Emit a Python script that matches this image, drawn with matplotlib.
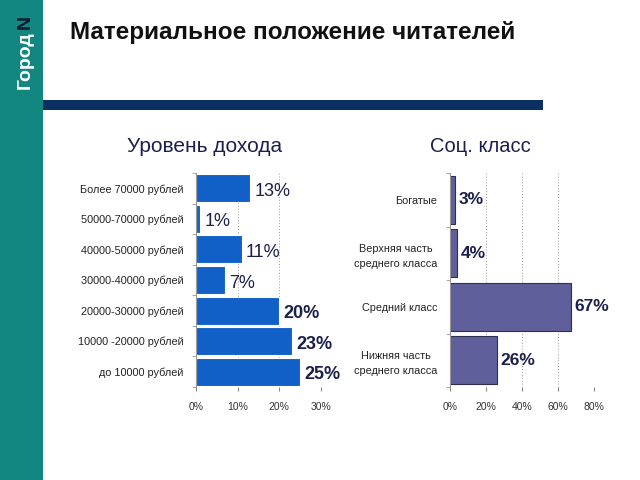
import matplotlib
matplotlib.use("Agg")
import matplotlib.pyplot as plt
from matplotlib.patches import Rectangle

plt.rcParams['font.family'] = ['Liberation Sans', 'DejaVu Sans']

income_labels = ["Более 70000 рублей", "50000-70000 рублей", "40000-50000 рублей",
                 "30000-40000 рублей", "20000-30000 рублей", "10000 -20000 рублей",
                 "до 10000 рублей"]
income_values = [13, 1, 11, 7, 20, 23, 25]
income_ticks = [0, 10, 20, 30]

class_labels = ["Богатые", "Верхняя часть\nсреднего класса", "Средний класс",
                "Нижняя часть\nсреднего класса"]
class_values = [3, 4, 67, 26]
class_ticks = [0, 20, 40, 60, 80]

title = "Материальное положение читателей"
brand = "Город"
brand_n = "N"
title_left = "Уровень дохода"
title_right = "Соц. класс"

fig = plt.figure(figsize=(6.4, 4.8), dpi=100)
fig.patch.set_facecolor("white")

brand_font = ['Liberation Sans Narrow', 'Liberation Sans', 'DejaVu Sans']

# sidebar
fig.add_artist(Rectangle((0, 0), 43/640, 1, transform=fig.transFigure,
                         facecolor="#11877f", edgecolor="none"))
fig.text(25/640, 1 - 89/480, brand, rotation=90, color="white", fontsize=14,
         fontweight="bold", ha="center", va="bottom", family=brand_font)
fig.text(25/640, 1 - 15/480, brand_n, rotation=90, color="#0b1a2e", fontsize=14,
         fontweight="bold", ha="center", va="top", family=brand_font)
# header bar
fig.add_artist(Rectangle((43/640, 1 - 110/480), 500/640, 10/480, transform=fig.transFigure,
                         facecolor="#0b2f63", edgecolor="none"))
fig.text(70/640, 1 - 33/480, title, fontsize=17.5, fontweight="bold", color="#111111",
         ha="left", va="center")

title_color = "#1b1f4d"
val_color = "#1b1f4d"


def style_axes(ax, ticks, labels_n):
    ax.set_xticks(ticks)
    ax.set_xticklabels([f"{t}%" for t in ticks], fontsize=7.5, color="#333333")
    ax.tick_params(axis="x", length=3, color="#888888", pad=8)
    for s in ["top", "right", "bottom"]:
        ax.spines[s].set_visible(False)
    ax.spines["left"].set_color("#999999")
    ax.spines["left"].set_linewidth(0.8)
    ax.set_yticks([i - 0.5 for i in range(labels_n + 1)], minor=True)
    ax.tick_params(axis="y", which="minor", length=3, color="#999999", direction="out")
    ax.tick_params(axis="y", which="major", length=0, pad=9)
    ax.xaxis.grid(True, linestyle=(0, (1, 2)), color="#999999", linewidth=0.7)
    ax.set_axisbelow(True)


# left chart
ax1 = fig.add_axes([196/640, 1 - 387/480, 125/640, 214/480])
n1 = len(income_values)
y1 = list(range(n1))
ax1.barh(y1, income_values, height=0.92, color="#1060c8", edgecolor="white", linewidth=0.8)
ax1.set_xlim(0, 30)
ax1.set_ylim(n1 - 0.5, -0.5)
ax1.set_yticks(y1)
ax1.set_yticklabels(income_labels, fontsize=7.8, color="#222222")
style_axes(ax1, income_ticks, n1)
for yi, v in zip(y1, income_values):
    ax1.text(v + 1.0, yi + 0.1, f"{v}%", fontsize=13, color=val_color,
             fontweight="bold" if v >= 20 else "normal", ha="left", va="center")
fig.text(205/640, 1 - 147/480, title_left, fontsize=15, color=title_color,
         ha="center", va="center")

# right chart
ax2 = fig.add_axes([450/640, 1 - 387/480, 144/640, 214/480])
n2 = len(class_values)
y2 = list(range(n2))
ax2.barh(y2, class_values, height=0.9, color="#5f5f9b", edgecolor="#2e2e4e", linewidth=0.8)
ax2.set_xlim(0, 80)
ax2.set_ylim(n2 - 0.5, -0.5)
ax2.set_yticks(y2)
ax2.set_yticklabels(class_labels, fontsize=7.8, color="#222222", multialignment="center",
                    linespacing=1.6)
style_axes(ax2, class_ticks, n2)
for yi, v in zip(y2, class_values):
    ax2.text(v + 2.0, yi, f"{v}%", fontsize=12.5, color=val_color,
             fontweight="bold", ha="left", va="center")
fig.text(480/640, 1 - 147/480, title_right, fontsize=14.5, color=title_color,
         ha="center", va="center")

fig.savefig("out.png", dpi=100)
